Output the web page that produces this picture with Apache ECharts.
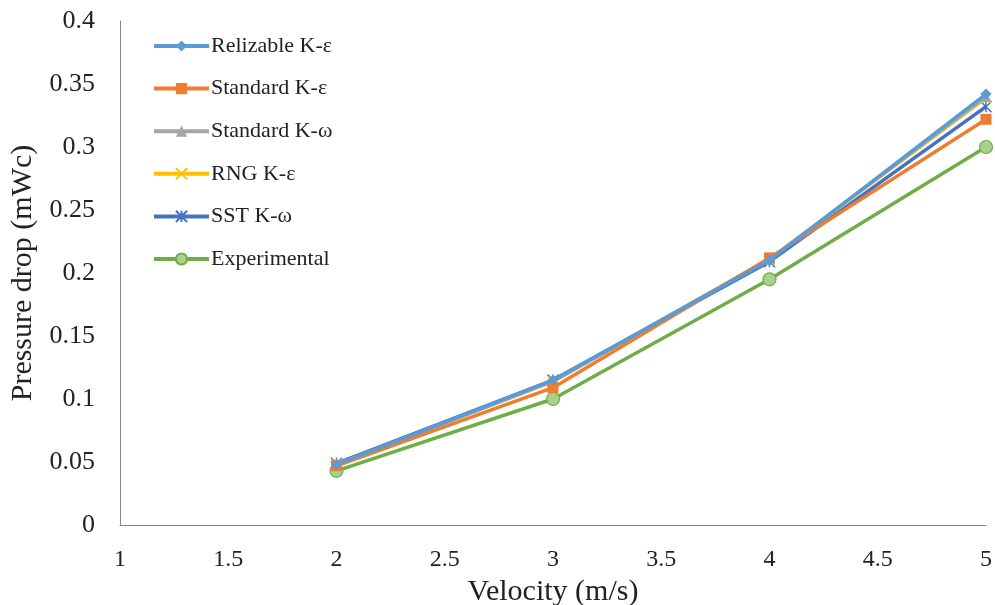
<!DOCTYPE html>
<html><head><meta charset="utf-8">
<script src="https://cdn.jsdelivr.net/npm/echarts@6/dist/echarts.min.js"></script>
<style>html,body{margin:0;padding:0;background:#fff}#c{width:995px;height:605px}</style>
</head><body><div id="c"></div>
<script>
const velocity = [2, 3, 4, 5];
const seriesNames = ['Relizable K-ε', 'Standard K-ε', 'Standard K-ω', 'RNG K-ε', 'SST K-ω', 'Experimental'];
const relizable = [0.048, 0.115, 0.210, 0.342];
const standardKe = [0.047, 0.109, 0.212, 0.322];
const standardKw = [0.048, 0.114, 0.211, 0.340];
const rngKe = [0.048, 0.114, 0.211, 0.339];
const sstKw = [0.049, 0.115, 0.209, 0.332];
const experimental = [0.043, 0.100, 0.195, 0.300];
const xTicks = [1, 1.5, 2, 2.5, 3, 3.5, 4, 4.5, 5];
const yTicks = [0, 0.05, 0.1, 0.15, 0.2, 0.25, 0.3, 0.35, 0.4];

const colors = ['#5B9BD5', '#ED7D31', '#A5A5A5', '#FFC000', '#4472C4', '#70AD47'];
const values = [relizable, standardKe, standardKw, rngKe, sstKw, experimental];
const symbols = ['diamond', 'rect', 'triangle', 'path://M0,0L10,10M10,0L0,10', 'path://M0,0L10,10M10,0L0,10M5,0L5,10', 'circle'];
const sizes = [11, 11, 11, 10, 11, 13];

const series = seriesNames.map((name, i) => {
  const strokeOnly = i === 3 || i === 4;
  return {
    name, type: 'line',
    data: velocity.map((v, j) => [v, values[i][j]]),
    symbol: symbols[i], symbolSize: sizes[i],
    lineStyle: { color: colors[i], width: 3.5 },
    itemStyle: strokeOnly ? { color: 'rgba(0,0,0,0)', borderColor: colors[i], borderWidth: 1.5 }
      : (i === 5 ? { color: '#A9D18E', borderColor: '#70AD47', borderWidth: 1.2 } : { color: colors[i] }),
    z: 10 - i
  };
});

const chart = echarts.init(document.getElementById('c'), null, { renderer: 'canvas' });
chart.setOption({
  animation: false,
  backgroundColor: '#fff',
  grid: { left: 120, right: 9, top: 21, bottom: 80, containLabel: false, outerBoundsMode: 'none' },
  legend: {
    orient: 'vertical', left: 147, top: 30,
    itemWidth: 55, itemHeight: 14, itemGap: 20.6,
    lineStyle: { width: 4 },
    textStyle: { fontFamily: 'Liberation Serif', fontSize: 22, color: '#222', padding: [0, 0, 0, -3] },
    data: seriesNames
  },
  xAxis: {
    type: 'value', min: xTicks[0], max: xTicks[xTicks.length - 1], interval: 0.5,
    name: 'Velocity (m/s)', nameLocation: 'middle', nameGap: 46,
    nameTextStyle: { fontFamily: 'Liberation Serif', fontSize: 30, color: '#222' },
    axisLine: { lineStyle: { color: '#888', width: 1 } },
    axisTick: { show: false },
    splitLine: { show: false },
    axisLabel: { fontFamily: 'Liberation Serif', fontSize: 24, color: '#222', margin: 23 }
  },
  yAxis: {
    type: 'value', min: yTicks[0], max: yTicks[yTicks.length - 1], interval: 0.05,
    name: 'Pressure drop (mWc)', nameLocation: 'middle', nameGap: 80,
    nameTextStyle: { fontFamily: 'Liberation Serif', fontSize: 30, color: '#222' },
    axisLine: { show: true, lineStyle: { color: '#888', width: 1 } },
    axisTick: { show: false },
    splitLine: { show: false },
    axisLabel: { fontFamily: 'Liberation Serif', fontSize: 26, color: '#222', margin: 25 }
  },
  series
});
</script></body></html>
